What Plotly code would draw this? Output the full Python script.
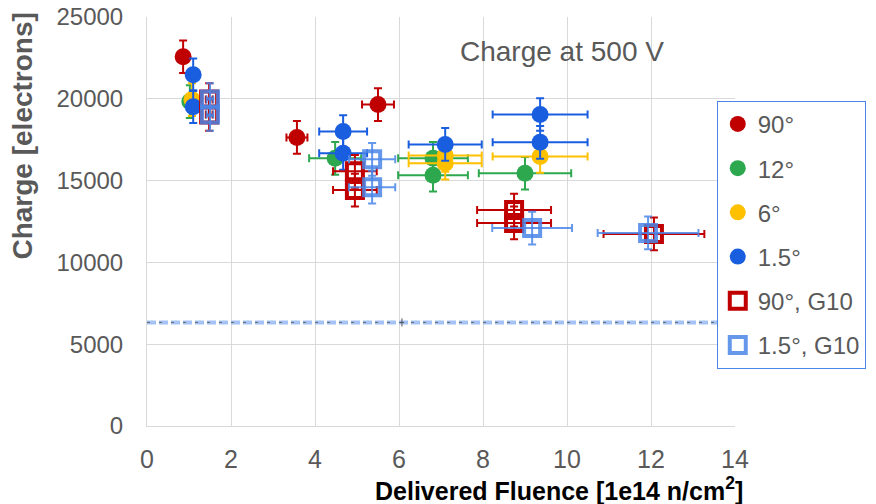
import plotly.graph_objects as go

# ---- data ----
r90_x = [0.86, 3.57, 5.5]
r90_y = [22570, 17640, 19650]
r90_xe = [0.08, 0.25, 0.38]
r90_ye = [1000, 1000, 1000]

g12_x = [1.02, 4.48, 6.81, 6.81, 9.0]
g12_y = [19830, 16360, 16360, 15330, 15450]
g12_xe = [0.08, 0.62, 0.83, 0.83, 1.1]
g12_ye = [1000, 1000, 1000, 1000, 1000]

y6_x = [1.07, 7.1, 7.1, 9.36]
y6_y = [19950, 16540, 16060, 16480]
y6_xe = [0.08, 0.87, 0.87, 1.13]
y6_ye = [1000, 1000, 1000, 1000]

b15_x = [1.1, 1.1, 4.67, 4.67, 7.1, 9.36, 9.36]
b15_y = [21470, 19520, 18000, 16670, 17210, 19040, 17340]
b15_xe = [0.08, 0.08, 0.57, 0.57, 0.87, 1.13, 1.13]
b15_ye = [1000, 1000, 1000, 1000, 1000, 1000, 1000]

r90g_x = [1.48, 1.48, 4.95, 4.95, 8.74, 8.74, 12.07]
r90g_y = [19950, 19040, 15570, 14420, 13200, 12410, 11740]
r90g_xe = [0.08, 0.08, 0.52, 0.52, 0.88, 0.88, 1.2]
r90g_ye = [1000, 1000, 1000, 1000, 1000, 1000, 1000]

b15g_x = [1.5, 1.5, 5.36, 5.36, 9.17, 11.93]
b15g_y = [19950, 19040, 16300, 14600, 12100, 11800]
b15g_xe = [0.08, 0.08, 0.55, 0.55, 0.95, 1.2]
b15g_ye = [1000, 1000, 1000, 1000, 1000, 1000]

thr_x = [0, 14]
thr_y = [6330, 6330]
thr_mark_x = [6.07]
thr_mark_y = [6330]

RED = "#C00000"
GREEN = "#2EA84F"
YELLOW = "#FFC000"
BLUE = "#1A5EE0"
LBLUE = "rgba(74,134,232,0.85)"
GRAY = "#595959"

fig = go.Figure()

# threshold line
fig.add_trace(go.Scatter(x=thr_x, y=thr_y, mode="lines", showlegend=False,
                         line=dict(color="#A4C2F4", width=4, dash="9px,3px"), hoverinfo="skip"))
fig.add_trace(go.Scatter(x=thr_x, y=thr_y, mode="lines", showlegend=False,
                         line=dict(color="#666666", width=1, dash="3px,9px"), hoverinfo="skip"))
fig.add_trace(go.Scatter(x=thr_mark_x, y=thr_mark_y, mode="markers", showlegend=False,
                         marker=dict(size=1, color="#555555"),
                         error_y=dict(type="data", array=[250], color="#555555", thickness=1, width=0),
                         error_x=dict(type="data", array=[0.05], color="#555555", thickness=1, width=0)))


def add_series(name, x, y, xe, ye, color, symbol, size, lw=0, opacity=1.0):
    marker = dict(size=size, color=color, symbol=symbol)
    if symbol == "square-open":
        marker["line"] = dict(width=lw, color=color)
    else:
        marker["line"] = dict(width=0)
    fig.add_trace(go.Scatter(
        x=x, y=y, mode="markers", name=name, marker=marker, opacity=opacity,
        legendgroup=name,
        error_x=dict(type="data", array=xe, color=color, thickness=2, width=4),
        error_y=dict(type="data", array=ye, color=color, thickness=2, width=4),
    ))


add_series("90°", r90_x, r90_y, r90_xe, r90_ye, RED, "circle", 17)
add_series("12°", g12_x, g12_y, g12_xe, g12_ye, GREEN, "circle", 17)
add_series("6°", y6_x, y6_y, y6_xe, y6_ye, YELLOW, "circle", 17)
add_series("1.5°", b15_x, b15_y, b15_xe, b15_ye, BLUE, "circle", 17)
add_series("90°, G10", r90g_x, r90g_y, r90g_xe, r90g_ye, RED, "square-open", 16, lw=4)
add_series("1.5°, G10", b15g_x, b15g_y, b15g_xe, b15g_ye, LBLUE, "square-open", 16, lw=4)

fig.update_layout(
    width=876, height=504,
    margin=dict(l=139, r=149, t=9, b=86),
    paper_bgcolor="white", plot_bgcolor="white",
    font=dict(family="Liberation Sans, Arial, sans-serif", size=25, color=GRAY),
    xaxis=dict(range=[0, 14], dtick=2, showgrid=True, gridcolor="#D9D9D9", gridwidth=1,
               showline=True, linecolor="#D9D9D9", linewidth=1, zeroline=False,
               automargin=False, tickformat="d", ticklabeloverflow="allow",
               ticks="", ticklabelstandoff=11, tickfont=dict(size=25, color=GRAY)),
    yaxis=dict(range=[0, 25000], dtick=5000, showgrid=True, gridcolor="#D9D9D9", gridwidth=1,
               showline=True, linecolor="#D9D9D9", linewidth=1, zeroline=False,
               automargin=False, tickformat="d", ticklabeloverflow="allow",
               ticks="", ticklabelstandoff=18, tickfont=dict(size=24, color=GRAY)),
    legend=dict(x=0.969, y=0.795, xanchor="left", yanchor="top",
                bordercolor="#4A86E8", borderwidth=1, bgcolor="white",
                font=dict(size=24, color=GRAY), traceorder="grouped",
                tracegroupgap=10, itemsizing="trace", itemwidth=30),
    showlegend=True,
    annotations=[
        dict(text="Charge at 500 V", x=0.705, y=0.915, xref="paper", yref="paper",
             xanchor="center", yanchor="middle", showarrow=False,
             font=dict(size=28, color=GRAY)),
        dict(text="<b>Charge [electrons]</b>", x=-0.211, y=0.71, xref="paper", yref="paper",
             xanchor="center", yanchor="middle", textangle=-90, showarrow=False,
             font=dict(size=28, color=GRAY)),
        dict(text="<b>Delivered Fluence [1e14 n/cm<sup>2</sup>]</b>", x=1.017, y=-0.155,
             xref="paper", yref="paper", xanchor="right", yanchor="middle", showarrow=False,
             font=dict(size=25, color="black")),
    ],
)

fig.write_html("out.html")
